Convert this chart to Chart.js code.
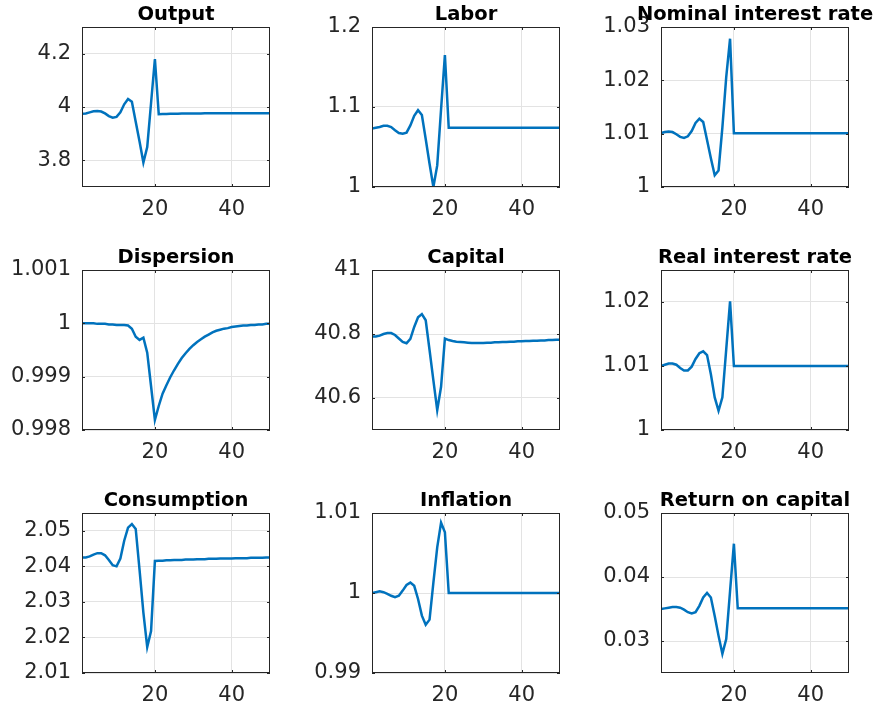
<!DOCTYPE html>
<html>
<head>
<meta charset="utf-8">
<title>Impulse responses</title>
<script src="https://cdn.jsdelivr.net/npm/chart.js@4.4.1/dist/chart.umd.min.js"></script>
<style>
  body { margin: 0; background: #fff; }
  #fig { position: relative; width: 882px; height: 709px; overflow: hidden; }
  #fig canvas { position: absolute; }
</style>
</head>
<body>
<div id="fig"></div>
<script>
// x axis: periods 1..50
const periods = [
  1, 2, 3, 4, 5, 6, 7, 8, 9, 10,
  11, 12, 13, 14, 15, 16, 17, 18, 19, 20,
  21, 22, 23, 24, 25, 26, 27, 28, 29, 30,
  31, 32, 33, 34, 35, 36, 37, 38, 39, 40,
  41, 42, 43, 44, 45, 46, 47, 48, 49, 50
];
const xTicks = [20, 40];

const output = [
  3.975, 3.976, 3.980, 3.984, 3.985, 3.983, 3.976, 3.966, 3.960, 3.963,
  3.980, 4.010, 4.030, 4.020, 3.945, 3.871, 3.792, 3.850, 4.015, 4.180,
  3.973, 3.974, 3.974, 3.975, 3.975, 3.975, 3.976, 3.976, 3.976, 3.976,
  3.976, 3.976, 3.977, 3.977, 3.977, 3.977, 3.977, 3.977, 3.977, 3.977,
  3.977, 3.977, 3.977, 3.977, 3.977, 3.977, 3.977, 3.977, 3.977, 3.977
];
const labor = [
  1.073, 1.074, 1.075, 1.0765, 1.0765, 1.075, 1.071, 1.0675, 1.0665, 1.068,
  1.077, 1.089, 1.096, 1.090, 1.060, 1.029, 1.000, 1.027, 1.097, 1.165,
  1.074, 1.074, 1.074, 1.074, 1.074, 1.074, 1.074, 1.074, 1.074, 1.074,
  1.074, 1.074, 1.074, 1.074, 1.074, 1.074, 1.074, 1.074, 1.074, 1.074,
  1.074, 1.074, 1.074, 1.074, 1.074, 1.074, 1.074, 1.074, 1.074, 1.074
];
const nominalRate = [
  1.0101, 1.0103, 1.0104, 1.0103, 1.0099, 1.0094, 1.0092, 1.0095, 1.0105, 1.0120,
  1.0128, 1.0122, 1.0088, 1.0054, 1.0022, 1.0031, 1.0112, 1.0206, 1.0278, 1.0101,
  1.0101, 1.0101, 1.0101, 1.0101, 1.0101, 1.0101, 1.0101, 1.0101, 1.0101, 1.0101,
  1.0101, 1.0101, 1.0101, 1.0101, 1.0101, 1.0101, 1.0101, 1.0101, 1.0101, 1.0101,
  1.0101, 1.0101, 1.0101, 1.0101, 1.0101, 1.0101, 1.0101, 1.0101, 1.0101, 1.0101
];
const dispersion = [
  1.00000, 1.00000, 1.00000, 1.00000, 0.99999, 0.99999, 0.99999, 0.99998, 0.99998, 0.99997,
  0.99997, 0.99997, 0.99996, 0.99990, 0.99975, 0.99969, 0.99973, 0.99945, 0.99882, 0.99819,
  0.99845, 0.99868, 0.99884, 0.99899, 0.99912, 0.99924, 0.99935, 0.99944, 0.99952, 0.99959,
  0.99965, 0.99970, 0.99975, 0.99979, 0.99983, 0.99986, 0.99988, 0.99990, 0.99991, 0.99993,
  0.99994, 0.99995, 0.99996, 0.99996, 0.99997, 0.99997, 0.99998, 0.99998, 0.99999, 0.99999
];
const capital = [
  40.792, 40.792, 40.795, 40.800, 40.803, 40.803, 40.797, 40.786, 40.775, 40.771,
  40.785, 40.822, 40.852, 40.862, 40.843, 40.750, 40.655, 40.562, 40.635, 40.786,
  40.781, 40.778, 40.776, 40.775, 40.774, 40.773, 40.772, 40.772, 40.772, 40.772,
  40.773, 40.773, 40.774, 40.774, 40.775, 40.775, 40.776, 40.776, 40.777, 40.777,
  40.778, 40.778, 40.779, 40.779, 40.780, 40.780, 40.781, 40.781, 40.782, 40.782
];
const realRate = [
  1.0100, 1.0102, 1.0104, 1.0104, 1.0102, 1.0097, 1.0093, 1.0093, 1.0099, 1.0111,
  1.0120, 1.0123, 1.0117, 1.0087, 1.0051, 1.0030, 1.0051, 1.0126, 1.0201, 1.0100,
  1.0100, 1.0100, 1.0100, 1.0100, 1.0100, 1.0100, 1.0100, 1.0100, 1.0100, 1.0100,
  1.0100, 1.0100, 1.0100, 1.0100, 1.0100, 1.0100, 1.0100, 1.0100, 1.0100, 1.0100,
  1.0100, 1.0100, 1.0100, 1.0100, 1.0100, 1.0100, 1.0100, 1.0100, 1.0100, 1.0100
];
const consumption = [
  2.0425, 2.0425, 2.0428, 2.0433, 2.0437, 2.0437, 2.0431, 2.0418, 2.0403, 2.0400,
  2.0422, 2.0472, 2.0509, 2.0519, 2.0505, 2.0390, 2.0270, 2.0173, 2.0218, 2.0415,
  2.0416, 2.0416, 2.0417, 2.0417, 2.0418, 2.0418, 2.0418, 2.0419, 2.0419, 2.0419,
  2.0420, 2.0420, 2.0420, 2.0421, 2.0421, 2.0421, 2.0422, 2.0422, 2.0422, 2.0422,
  2.0423, 2.0423, 2.0423, 2.0423, 2.0424, 2.0424, 2.0424, 2.0424, 2.0425, 2.0425
];
const inflation = [
  1.0000, 1.0001, 1.0002, 1.0001, 0.9999, 0.99965, 0.99948, 0.99965, 1.0003, 1.0010,
  1.0013, 1.0009, 0.99925, 0.99717, 0.99604, 0.99667, 1.0013, 1.0057, 1.0088, 1.0076,
  1.0000, 1.0000, 1.0000, 1.0000, 1.0000, 1.0000, 1.0000, 1.0000, 1.0000, 1.0000,
  1.0000, 1.0000, 1.0000, 1.0000, 1.0000, 1.0000, 1.0000, 1.0000, 1.0000, 1.0000,
  1.0000, 1.0000, 1.0000, 1.0000, 1.0000, 1.0000, 1.0000, 1.0000, 1.0000, 1.0000
];
const returnOnCapital = [
  0.0350, 0.0351, 0.0352, 0.0353, 0.0353, 0.0352, 0.0349, 0.0345, 0.0343, 0.0345,
  0.0355, 0.0368, 0.0375, 0.0368, 0.0339, 0.0308, 0.0280, 0.0303, 0.0378, 0.0452,
  0.0351, 0.0351, 0.0351, 0.0351, 0.0351, 0.0351, 0.0351, 0.0351, 0.0351, 0.0351,
  0.0351, 0.0351, 0.0351, 0.0351, 0.0351, 0.0351, 0.0351, 0.0351, 0.0351, 0.0351,
  0.0351, 0.0351, 0.0351, 0.0351, 0.0351, 0.0351, 0.0351, 0.0351, 0.0351, 0.0351
];

// y tick labels and limits per panel
const outputTicks = [3.8, 4, 4.2];
const laborTicks = [1, 1.1, 1.2];
const nominalTicks = [1, 1.01, 1.02, 1.03];
const dispersionTicks = [0.998, 0.999, 1, 1.001];
const capitalTicks = [40.6, 40.8, 41];
const realTicks = [1, 1.01, 1.02];
const consumptionTicks = [2.01, 2.02, 2.03, 2.04, 2.05];
const inflationTicks = [0.99, 1, 1.01];
const returnTicks = [0.03, 0.04, 0.05];

const panels = [
  { title: 'Output', values: output, ticks: outputTicks, min: 3.7, max: 4.3 },
  { title: 'Labor', values: labor, ticks: laborTicks, min: 1, max: 1.2 },
  { title: 'Nominal interest rate', values: nominalRate, ticks: nominalTicks, min: 1, max: 1.03 },
  { title: 'Dispersion', values: dispersion, ticks: dispersionTicks, min: 0.998, max: 1.001 },
  { title: 'Capital', values: capital, ticks: capitalTicks, min: 40.5, max: 41 },
  { title: 'Real interest rate', values: realRate, ticks: realTicks, min: 1, max: 1.025 },
  { title: 'Consumption', values: consumption, ticks: consumptionTicks, min: 2.01, max: 2.055 },
  { title: 'Inflation', values: inflation, ticks: inflationTicks, min: 0.99, max: 1.01 },
  { title: 'Return on capital', values: returnOnCapital, ticks: returnTicks, min: 0.025, max: 0.05 }
];

// plot area placement (px)
const colLeft = [82, 372, 661];
const rowTop = [27, 270, 513];
const plotW = 188, plotH = 160;
const padL = 80, padT = 30, padR = 30, padB = 32;

const axisColor = '#262626';
const gridColor = '#e3e3e3';
const lineColor = '#0072BD';
const tickFont = { family: '"DejaVu Sans", sans-serif', size: 21 };

// matlab style box, inward tick marks and bold title
const boxPlugin = {
  id: 'matlabBox',
  afterDatasetsDraw(chart, args, opts) {
    const { ctx, chartArea: a, scales } = chart;
    ctx.save();
    ctx.strokeStyle = axisColor;
    ctx.lineWidth = 1;
    ctx.strokeRect(a.left + 0.5, a.top + 0.5, a.right - a.left - 1, a.bottom - a.top - 1);
    ctx.beginPath();
    scales.y.ticks.forEach(t => {
      const y = Math.round(scales.y.getPixelForValue(t.value)) + 0.5;
      ctx.moveTo(a.left, y); ctx.lineTo(a.left + 3, y);
      ctx.moveTo(a.right - 3, y); ctx.lineTo(a.right, y);
    });
    scales.x.ticks.forEach(t => {
      const x = Math.round(scales.x.getPixelForValue(t.value)) + 0.5;
      ctx.moveTo(x, a.bottom); ctx.lineTo(x, a.bottom - 3);
      ctx.moveTo(x, a.top); ctx.lineTo(x, a.top + 3);
    });
    ctx.stroke();
    ctx.fillStyle = '#000';
    ctx.font = 'bold 19.5px "DejaVu Sans", sans-serif';
    ctx.textAlign = 'center';
    ctx.textBaseline = 'alphabetic';
    ctx.fillText(opts.text, (a.left + a.right) / 2, a.top - 7);
    ctx.restore();
  }
};

const fig = document.getElementById('fig');

panels.forEach((p, i) => {
  const col = i % 3, row = Math.floor(i / 3);
  const canvas = document.createElement('canvas');
  canvas.width = padL + plotW + padR;
  canvas.height = padT + plotH + padB;
  canvas.style.left = (colLeft[col] - padL) + 'px';
  canvas.style.top = (rowTop[row] - padT) + 'px';
  fig.appendChild(canvas);

  new Chart(canvas, {
    type: 'line',
    data: {
      datasets: [{
        data: periods.map((t, k) => ({ x: t, y: p.values[k] })),
        borderColor: lineColor,
        borderWidth: 2.5,
        pointRadius: 0,
        tension: 0,
        fill: false
      }]
    },
    options: {
      responsive: false,
      animation: false,
      devicePixelRatio: 1,
      layout: { padding: { top: padT, right: padR, left: 0, bottom: 0 } },
      plugins: {
        legend: { display: false },
        tooltip: { enabled: false },
        matlabBox: { text: p.title }
      },
      scales: {
        x: {
          type: 'linear',
          min: 1,
          max: 50,
          afterBuildTicks: s => { s.ticks = xTicks.map(v => ({ value: v })); },
          afterFit: s => { s.height = padB; },
          grid: { color: gridColor, drawTicks: false },
          border: { display: false },
          ticks: { font: tickFont, color: axisColor, padding: 10, maxRotation: 0 }
        },
        y: {
          min: p.min,
          max: p.max,
          afterBuildTicks: s => { s.ticks = p.ticks.map(v => ({ value: v })); },
          afterFit: s => { s.width = padL; },
          grid: { color: gridColor, drawTicks: false },
          border: { display: false },
          ticks: { font: tickFont, color: axisColor, padding: 11, callback: v => String(v) }
        }
      }
    },
    plugins: [boxPlugin]
  });
});
</script>
</body>
</html>
